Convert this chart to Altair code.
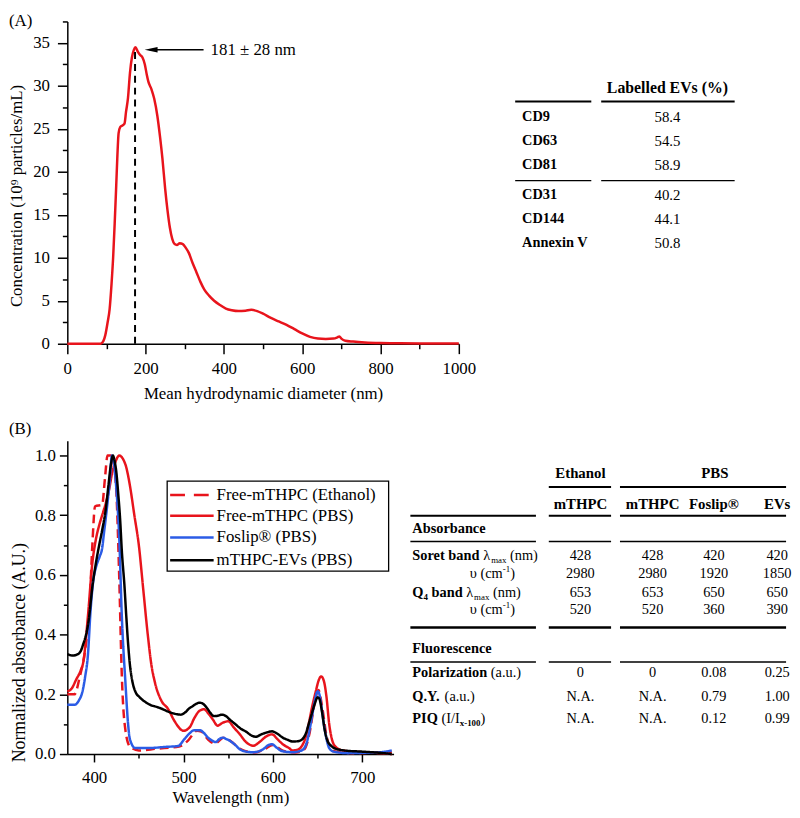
import altair as alt
import pandas as pd

FONT = "Liberation Serif"
RED = "#e8141c"
BLUE = "#2b5ce6"
BLACK = "#000000"

# ---------------- Panel A: size distribution ----------------
size_nm = [0, 60, 85, 92, 97, 103, 108, 113, 117, 121, 125, 128, 131, 135, 141, 146, 150, 155, 160, 165,
           170, 174, 180, 186, 192, 198, 203, 207, 215, 222, 230, 237, 243, 250, 256, 262, 268, 274, 280, 287,
           295, 302, 310, 320, 330, 340, 350, 362, 375, 390, 405, 420, 437, 455, 470, 485, 500, 520, 540, 560,
           580, 600, 620, 640, 660, 680, 690, 695, 700, 710, 730, 760, 800, 850, 900, 950, 1000]
concentration = [0, 0, 0, 0.3, 1.0, 2.5, 4.0, 7.0, 10.0, 14.0, 18.5, 22.0, 24.5, 25.2, 25.4, 25.6, 27.0, 28.6, 31.5, 33.3,
                 34.2, 34.5, 34.0, 33.6, 33.3, 32.5, 31.3, 30.5, 29.6, 28.5, 26.5, 24.0, 21.5, 18.0, 15.5, 13.5, 12.2, 11.6, 11.5, 11.7,
                 11.6, 11.2, 10.6, 9.4, 8.3, 7.2, 6.3, 5.6, 5.0, 4.5, 4.1, 3.9, 3.8, 3.85, 3.95, 3.8, 3.5, 3.0, 2.6, 2.2,
                 1.7, 1.2, 0.8, 0.6, 0.55, 0.6, 0.75, 0.85, 0.6, 0.35, 0.25, 0.15, 0.08, 0.05, 0.03, 0.02, 0.02]
mode_nm = 173
mode_conc = 34.4
mode_label = "181 ± 28 nm"
arrow_y = 34.2
arrow_tip_nm = 198
arrow_tail_nm = 348
mode_label_nm = 366

ev_markers = ["CD9", "CD63", "CD81", "CD31", "CD144", "Annexin V"]
ev_labelled_pct = [58.4, 54.5, 58.9, 40.2, 44.1, 50.8]
ev_group_sizes = [3, 3]
ev_header = "Labelled EVs (%)"

# ---------------- Panel B: absorbance spectra ----------------
series_names = ["Free-mTHPC (Ethanol)", "Free-mTHPC (PBS)", "Foslip® (PBS)", "mTHPC-EVs (PBS)"]
series_colors = [RED, RED, BLUE, BLACK]
series_dashes = [[9, 5], [1, 0], [1, 0], [1, 0]]

wl_ethanol = [370, 378, 384, 390, 395, 398, 401, 409, 412, 415, 419, 422, 425, 428, 431, 435, 440, 450, 470, 495,
              505, 515, 520, 527, 535, 545, 552, 565, 580, 590, 600, 612, 625, 635, 641, 646, 651, 655, 660, 667,
              690, 733]
abs_ethanol = [0.20, 0.20, 0.26, 0.35, 0.50, 0.70, 0.83, 0.835, 0.92, 1.0, 1.0, 0.97, 0.87, 0.60, 0.26, 0.08, 0.025, 0.012, 0.018, 0.025,
               0.045, 0.078, 0.075, 0.05, 0.035, 0.055, 0.045, 0.015, 0.005, 0.015, 0.03, 0.01, 0.005, 0.015, 0.07, 0.16, 0.215, 0.16, 0.06, 0.01,
               0.003, 0.008]

wl_pbs = [370, 375, 380, 385, 388, 393, 398, 402, 406, 410, 413, 417, 420, 424, 428, 432, 436, 440, 445, 450,
          455, 460, 464, 468, 475, 483, 490, 500, 507, 512, 518, 523, 528, 533, 538, 544, 550, 556, 563, 570,
          578, 585, 592, 599, 605, 611, 618, 622, 628, 633, 637, 640, 644, 648, 651, 654, 657, 660, 663, 666,
          670, 678, 690, 710, 733]
abs_pbs = [0.21, 0.22, 0.25, 0.28, 0.31, 0.46, 0.64, 0.72, 0.77, 0.81, 0.84, 0.89, 0.94, 0.98, 1.0, 0.99, 0.96, 0.90, 0.80, 0.70,
           0.55, 0.40, 0.30, 0.24, 0.18, 0.15, 0.11, 0.078, 0.09, 0.12, 0.145, 0.15, 0.135, 0.115, 0.095, 0.105, 0.11, 0.09, 0.066, 0.04,
           0.028, 0.04, 0.058, 0.066, 0.05, 0.033, 0.02, 0.012, 0.015, 0.03, 0.06, 0.10, 0.16, 0.21, 0.245, 0.26, 0.245, 0.19, 0.10, 0.05,
           0.025, 0.012, 0.008, 0.005, 0.0]

wl_foslip = [370, 378, 383, 387, 390, 393, 396, 399, 402, 406, 409, 411, 413, 417, 420, 422, 424, 426, 428, 431,
             435, 438, 440, 446, 460, 480, 494, 501, 507, 512, 518, 523, 527, 532, 536, 540, 544, 548, 552, 558,
             563, 570, 578, 585, 589, 595, 599, 604, 610, 622, 630, 634, 638, 641, 644, 647, 650, 652, 654, 657,
             660, 663, 668, 684, 700, 720, 733]
abs_foslip = [0.165, 0.165, 0.18, 0.21, 0.26, 0.33, 0.48, 0.58, 0.625, 0.66, 0.69, 0.74, 0.79, 0.90, 1.0, 0.98, 0.92, 0.84, 0.73, 0.46,
              0.24, 0.10, 0.05, 0.02, 0.02, 0.024, 0.027, 0.05, 0.07, 0.08, 0.08, 0.07, 0.056, 0.045, 0.04, 0.05, 0.055, 0.05, 0.044, 0.03,
              0.016, 0.008, 0.006, 0.01, 0.016, 0.03, 0.033, 0.022, 0.01, 0.006, 0.01, 0.016, 0.04, 0.08, 0.13, 0.18, 0.21, 0.20, 0.165, 0.10,
              0.05, 0.02, 0.008, 0.003, 0.004, 0.006, 0.012]

wl_evs = [370, 376, 382, 385, 388, 391, 394, 398, 402, 405, 409, 413, 416, 419, 421, 423, 425, 427, 429, 431,
          434, 436, 438, 440, 443, 446, 451, 457, 464, 470, 477, 483, 490, 497, 502, 506, 510, 514, 518, 522,
          526, 530, 534, 538, 543, 547, 552, 558, 564, 570, 576, 581, 587, 593, 599, 605, 611, 617, 622, 628,
          633, 637, 640, 643, 647, 650, 652, 655, 658, 661, 665, 670, 680, 700, 720, 733]
abs_evs = [0.335, 0.33, 0.335, 0.345, 0.37, 0.40, 0.45, 0.56, 0.64, 0.69, 0.75, 0.82, 0.90, 0.975, 1.0, 0.98, 0.94, 0.87, 0.79, 0.68,
           0.56, 0.46, 0.37, 0.30, 0.24, 0.21, 0.19, 0.175, 0.163, 0.158, 0.15, 0.142, 0.135, 0.132, 0.14, 0.152, 0.16, 0.168, 0.172, 0.168,
           0.155, 0.138, 0.127, 0.128, 0.132, 0.128, 0.115, 0.10, 0.085, 0.075, 0.062, 0.058, 0.066, 0.072, 0.076, 0.068, 0.055, 0.047, 0.042, 0.043,
           0.05, 0.07, 0.10, 0.13, 0.17, 0.19, 0.185, 0.14, 0.08, 0.045, 0.028, 0.018, 0.012, 0.008, 0.004, 0.0]

# ---------------- Table B ----------------
tb_solvents = ["Ethanol", "PBS"]
tb_solvent_span = [1, 3]
tb_formulations = ["mTHPC", "mTHPC", "Foslip®", "EVs"]
soret_lambda_nm = ["428", "428", "420", "420"]
soret_nu_cm = ["2980", "2980", "1920", "1850"]
q4_lambda_nm = ["653", "653", "650", "650"]
q4_nu_cm = ["520", "520", "360", "390"]
polarization_au = ["0", "0", "0.08", "0.25"]
quantum_yield_au = ["N.A.", "N.A.", "0.79", "1.00"]
piq_ratio = ["N.A.", "N.A.", "0.12", "0.99"]

# label pieces: (text, style)  b=bold, r=regular, sub/sup=small
lbl_absorbance = [("Absorbance", "b")]
lbl_soret = [("Soret band", "b"), (" λ", "r"), ("max", "sub"), (" (nm)", "r")]
lbl_nu = [("υ (cm", "r"), ("-1", "sup"), (")", "r")]
lbl_q4 = [("Q", "b"), ("4", "bsub"), (" band", "b"), (" λ", "r"), ("max", "sub"), (" (nm)", "r")]
lbl_fluo = [("Fluorescence", "b")]
lbl_pol = [("Polarization", "b"), (" (a.u.)", "r")]
lbl_qy = [("Q.Y.", "b"), (" (a.u.)", "r")]
lbl_piq = [("PIQ", "b"), (" (I/I", "r"), ("x-100", "bsub"), (")", "r")]

# ================= helpers =================
REG = {' ': .25, '(': .333, ')': .333, '.': .25, '/': .278, '-': .333, 'λ': .55, 'υ': .5, 'I': .333,
       'a': .444, 'c': .444, 'e': .444, 'm': .778, 'n': .5, 'u': .5, 'x': .5}
BOLD = {' ': .25, '.': .25, '-': .333, 'P': .611, 'Q': .778, 'I': .389, 'Y': .722, 'S': .556, 'F': .611,
        'A': .722, 'a': .5, 'b': .556, 'c': .444, 'd': .556, 'e': .444, 'i': .278, 'l': .278, 'n': .556,
        'o': .5, 'r': .444, 's': .389, 't': .333, 'u': .556, 'z': .444, 'x': .5}
for _d in '0123456789':
    REG[_d] = .5
    BOLD[_d] = .5
STYLE = {"b": (True, 1.0, 0), "r": (False, 1.0, 0), "sub": (False, 0.62, 4),
         "sup": (False, 0.62, -5), "bsub": (True, 0.62, 4)}


def text_width(s, bold, size):
    tbl = BOLD if bold else REG
    return sum(tbl.get(ch, 0.5) for ch in s) * size


def rich(pieces, x, y, size, cells):
    for txt, st in pieces:
        bold, scale, dy = STYLE[st]
        fs = size * scale
        lead = len(txt) - len(txt.lstrip(" "))
        x += lead * 0.25 * fs
        body = txt.lstrip(" ")
        cells.append(dict(x=x, y=y + dy, text=body, bold=bold, size=fs, align="left"))
        x += text_width(body, bold, fs)


def table_chart(cells, rules, W, H):
    cdf = pd.DataFrame(cells)
    rdf = pd.DataFrame(rules)
    xs = alt.Scale(domain=[0, W], nice=False, zero=False)
    ys = alt.Scale(domain=[0, H], nice=False, zero=False, reverse=True)
    frame = alt.Chart(pd.DataFrame({"x": [0], "x2": [W], "y": [0], "y2": [H]})).mark_rect(opacity=0).encode(
        x=alt.X("x:Q", scale=xs, axis=None), x2="x2:Q",
        y=alt.Y("y:Q", scale=ys, axis=None), y2="y2:Q")
    layers = [frame]
    layers.append(alt.Chart(rdf).mark_rule(color="black").encode(
        x=alt.X("x:Q", scale=xs, axis=None), x2="x2:Q",
        y=alt.Y("y:Q", scale=ys, axis=None),
        strokeWidth=alt.StrokeWidth("w:Q", scale=None)))
    for (bold, align), sub in cdf.groupby(["bold", "align"]):
        layers.append(alt.Chart(sub).mark_text(
            align=str(align), baseline="middle", color="black",
            fontWeight="bold" if bool(bold) else "normal").encode(
            x=alt.X("x:Q", scale=xs, axis=None),
            y=alt.Y("y:Q", scale=ys, axis=None),
            text="text:N",
            size=alt.Size("size:Q", scale=None)))
    return alt.layer(*layers).properties(width=W, height=H)


# ================= Panel A =================
WA, HA = 396, 326
dfA = pd.DataFrame({"size": size_nm, "conc": concentration})
xA = alt.Scale(domain=[0, 1000], nice=False, zero=False)
yA = alt.Scale(domain=[0, 37.5], nice=False, zero=False)

curveA = alt.Chart(dfA).mark_line(color=RED, strokeWidth=2.5, interpolate="monotone").encode(
    x=alt.X("size:Q", scale=xA, axis=alt.Axis(
        orient="bottom", values=[0, 200, 400, 600, 800, 1000], format="d", tickSize=10, labelPadding=7,
        title="Mean hydrodynamic diameter (nm)", titlePadding=9)),
    y=alt.Y("conc:Q", scale=yA, axis=alt.Axis(
        orient="left", values=[0, 5, 10, 15, 20, 25, 30, 35], tickSize=10, labelPadding=8,
        minExtent=37, maxExtent=37, title="Concentration (10⁹ particles/mL)", titlePadding=5,
        titleY=176)))
minorA = alt.Chart(dfA).mark_line(opacity=0).encode(
    x=alt.X("size:Q", scale=xA, axis=alt.Axis(
        orient="bottom", values=[100, 300, 500, 700, 900], tickSize=5, labels=False, domain=False, title=None)),
    y=alt.Y("conc:Q", scale=yA, axis=alt.Axis(
        orient="left", values=[2.5, 7.5, 12.5, 17.5, 22.5, 27.5, 32.5, 37.5], tickSize=5, labels=False,
        domain=False, title=None)))
peakA = alt.Chart(pd.DataFrame({"x": [mode_nm], "y0": [0], "y1": [mode_conc]})).mark_rule(
    color="black", strokeWidth=2, strokeDash=[7, 5]).encode(
    x=alt.X("x:Q", scale=xA, axis=None), y=alt.Y("y0:Q", scale=yA, axis=None), y2="y1:Q")
arrowA = alt.Chart(pd.DataFrame({"x0": [arrow_tip_nm + 12], "x1": [arrow_tail_nm], "y": [arrow_y]})).mark_rule(
    color="black", strokeWidth=1.5).encode(
    x=alt.X("x0:Q", scale=xA, axis=None), x2="x1:Q", y=alt.Y("y:Q", scale=yA, axis=None))
headA = alt.Chart(pd.DataFrame({"x": [arrow_tip_nm + 16], "y": [arrow_y]})).mark_point(
    shape="M-1,0L1,-0.42L1,0.42Z", filled=True, size=170, color="black", opacity=1).encode(
    x=alt.X("x:Q", scale=xA, axis=None), y=alt.Y("y:Q", scale=yA, axis=None))
noteA = alt.Chart(pd.DataFrame({"x": [mode_label_nm], "y": [arrow_y], "t": [mode_label]})).mark_text(
    align="left", baseline="middle", fontSize=17, color="black").encode(
    x=alt.X("x:Q", scale=xA, axis=None), y=alt.Y("y:Q", scale=yA, axis=None), text="t:N")
tagA = alt.Chart(pd.DataFrame({"t": ["(A)"]})).mark_text(
    align="left", baseline="middle", fontSize=17, color="black").encode(
    x=alt.value(-59), y=alt.value(0), text="t:N")

plotA = alt.layer(curveA, minorA, peakA, arrowA, headA, noteA, tagA).resolve_axis(
    x="independent", y="independent").properties(width=WA, height=HA)

# ---- Table A (positions relative to the plot-A origin) ----
TA_W, TA_H = 250, 250
TA_LBL_X, TA_VAL_X = 27, 174
TA_SEGS = [(20, 97), (107, 242)]
ta_cells, ta_rules = [], []
ta_cells.append(dict(x=TA_VAL_X, y=67, text=ev_header, bold=True, size=16, align="center"))
ta_rules += [dict(x=a, x2=b, y=81, w=2) for a, b in TA_SEGS]
yy = 97
k = 0
for gi, gsize in enumerate(ev_group_sizes):
    for _ in range(gsize):
        ta_cells.append(dict(x=TA_LBL_X, y=yy, text=ev_markers[k], bold=True, size=14.5, align="left"))
        ta_cells.append(dict(x=TA_VAL_X, y=yy, text=f"{ev_labelled_pct[k]:.1f}", bold=False, size=15, align="center"))
        k += 1
        last = yy
        yy += 24
    if gi < len(ev_group_sizes) - 1:
        ta_rules += [dict(x=a, x2=b, y=last + 16, w=1.5) for a, b in TA_SEGS]
        yy += 7
tableA = table_chart(ta_cells, ta_rules, TA_W, TA_H)

# ================= Panel B =================
WB, HB = 330, 317
dfB = pd.concat([
    pd.DataFrame({"wl": wl_ethanol, "ab": abs_ethanol, "series": series_names[0]}),
    pd.DataFrame({"wl": wl_pbs, "ab": abs_pbs, "series": series_names[1]}),
    pd.DataFrame({"wl": wl_foslip, "ab": abs_foslip, "series": series_names[2]}),
    pd.DataFrame({"wl": wl_evs, "ab": abs_evs, "series": series_names[3]}),
], ignore_index=True)
xB = alt.Scale(domain=[370, 735], nice=False, zero=False)
yB = alt.Scale(domain=[0, 1.05], nice=False, zero=False)

curvesB = alt.Chart(dfB).mark_line(strokeWidth=2.5, interpolate="monotone").encode(
    x=alt.X("wl:Q", scale=xB, axis=alt.Axis(
        orient="bottom", values=[400, 500, 600, 700], format="d", tickSize=8, labelPadding=8,
        title="Wavelength (nm)", titlePadding=4)),
    y=alt.Y("ab:Q", scale=yB, axis=alt.Axis(
        orient="left", values=[0, 0.2, 0.4, 0.6, 0.8, 1.0], format=".1f", tickSize=8, labelPadding=4,
        minExtent=34, maxExtent=34, title="Normalized absorbance (A.U.)", titlePadding=5,
        titleFontSize=18, titleY=214)),
    color=alt.Color("series:N", scale=alt.Scale(domain=series_names, range=series_colors), legend=None),
    strokeDash=alt.StrokeDash("series:N", scale=alt.Scale(domain=series_names, range=series_dashes), legend=None),
    detail="series:N")
minorB = alt.Chart(dfB).mark_line(opacity=0).encode(
    x=alt.X("wl:Q", scale=xB, axis=alt.Axis(
        orient="bottom", values=[450, 550, 650], tickSize=4, labels=False, domain=False, title=None)),
    y=alt.Y("ab:Q", scale=yB, axis=alt.Axis(
        orient="left", values=[0.1, 0.3, 0.5, 0.7, 0.9], tickSize=4, labels=False, domain=False, title=None)),
    detail="series:N")

legend_layers = [alt.Chart(pd.DataFrame({"t": [""]})).mark_rect(
    fill="white", stroke="black", strokeWidth=1.3).encode(
    x=alt.value(101), x2=alt.value(325), y=alt.value(41), y2=alt.value(132))]
LEG_Y = [55, 76, 98, 121]
for i, name in enumerate(series_names):
    d = pd.DataFrame({"t": [name]})
    dash = [15, 9] if series_dashes[i] != [1, 0] else [1, 0]
    legend_layers.append(alt.Chart(d).mark_rule(
        color=series_colors[i], strokeWidth=2.5, strokeDash=dash).encode(
        x=alt.value(104), x2=alt.value(148), y=alt.value(LEG_Y[i])))
    legend_layers.append(alt.Chart(d).mark_text(
        align="left", baseline="middle", fontSize=17, color="black").encode(
        x=alt.value(151), y=alt.value(LEG_Y[i]), text="t:N"))
tagB = alt.Chart(pd.DataFrame({"t": ["(B)"]})).mark_text(
    align="left", baseline="middle", fontSize=17, color="black").encode(
    x=alt.value(-59), y=alt.value(-12), text="t:N")

plotB = alt.layer(curvesB, minorB, *legend_layers, tagB).resolve_axis(
    x="independent", y="independent").properties(width=WB, height=HB)

# ---- Table B (positions relative to the plot-B origin) ----
TB_W, TB_H = 388, 300
COL_X = [180, 253, 315, 379]
LBL_X, SUB_X = 10, 68
SEG_ALL = [(8, 135), (148, 211), (220, 388)]
SEG_HEAD = [(148, 211), (220, 388)]
FS = 14.5
tb_cells, tb_rules = [], []

col0 = 0
for name, span in zip(tb_solvents, tb_solvent_span):
    cx = (COL_X[col0] + COL_X[col0 + span - 1]) / 2
    tb_cells.append(dict(x=cx, y=33, text=name, bold=True, size=15, align="center"))
    col0 += span
for a, b in SEG_HEAD:
    tb_rules.append(dict(x=a, x2=b, y=47, w=2))
for cx, name in zip(COL_X, tb_formulations):
    tb_cells.append(dict(x=cx, y=64, text=name, bold=True, size=15, align="center"))
for a, b in SEG_ALL:
    tb_rules.append(dict(x=a, x2=b, y=76, w=2))

rich(lbl_absorbance, LBL_X, 89, FS, tb_cells)
for a, b in SEG_ALL:
    tb_rules.append(dict(x=a, x2=b, y=102, w=1.5))

abs_rows = [(lbl_soret, LBL_X, soret_lambda_nm), (lbl_nu, SUB_X, soret_nu_cm),
            (lbl_q4, LBL_X, q4_lambda_nm), (lbl_nu, SUB_X, q4_nu_cm)]
for (pieces, lx, vals), ry in zip(abs_rows, [117, 135, 154, 171]):
    rich(pieces, lx, ry, FS, tb_cells)
    for cx, v in zip(COL_X, vals):
        tb_cells.append(dict(x=cx, y=ry, text=v, bold=False, size=FS, align="center"))
for a, b in SEG_ALL:
    tb_rules.append(dict(x=a, x2=b, y=189, w=2.5))

rich(lbl_fluo, LBL_X, 211, FS, tb_cells)
for a, b in SEG_ALL:
    tb_rules.append(dict(x=a, x2=b, y=224, w=1.5))

fl_rows = [(lbl_pol, polarization_au), (lbl_qy, quantum_yield_au), (lbl_piq, piq_ratio)]
for (pieces, vals), ry in zip(fl_rows, [235, 259, 282]):
    rich(pieces, LBL_X, ry, FS, tb_cells)
    for cx, v in zip(COL_X, vals):
        tb_cells.append(dict(x=cx, y=ry, text=v, bold=False, size=FS, align="center"))
tableB = table_chart(tb_cells, tb_rules, TB_W, TB_H)

# ================= assemble =================
rowA = alt.hconcat(plotA, tableA, spacing=20)
rowB = alt.hconcat(plotB, tableB, spacing=5)

chart = alt.vconcat(rowA, rowB, spacing=19).properties(padding=0).configure(
    font=FONT).configure_view(strokeWidth=0).configure_axis(
    domainColor="black", domainWidth=1.5, tickColor="black", tickWidth=1.5,
    labelFont=FONT, labelFontSize=17, labelColor="black", labelFlush=False,
    titleFont=FONT, titleFontSize=17, titleFontWeight="normal", titleColor="black", grid=False)

chart.save("out.html", embed_options={"renderer": "svg", "actions": False})
